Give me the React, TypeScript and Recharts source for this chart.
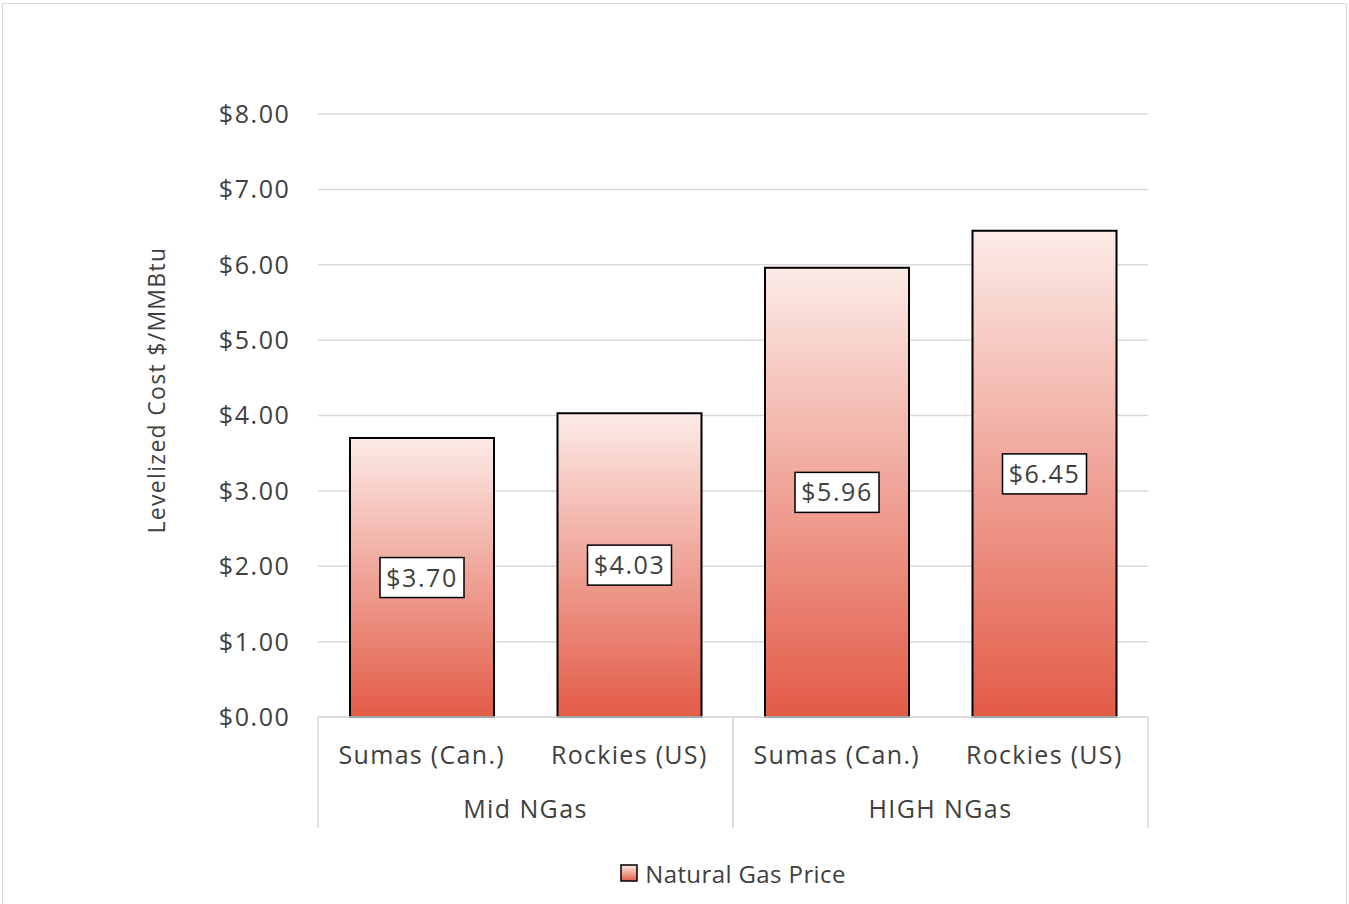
import React from "react";
import { BarChart, Bar, XAxis, YAxis, CartesianGrid, Legend, LabelList } from "recharts";

// Chart values
const categories = ["Sumas (Can.)", "Rockies (US)", "Sumas (Can.)", "Rockies (US)"];
const groups = ["Mid NGas", "Mid NGas", "HIGH NGas", "HIGH NGas"];
const prices = [3.7, 4.03, 5.96, 6.45];
const yTicks = [0, 1, 2, 3, 4, 5, 6, 7, 8];

const seriesName = "Natural Gas Price";
const yLabel = "Levelized Cost $/MMBtu";

const data = categories.map((c, i) => ({ cat: c, group: groups[i], price: prices[i] }));

const TEXT = "#404040";
const GRID = "#d9d9d9";
const FONT = "'Open Sans', sans-serif";

const CAT_AXIS_H = 55;
const GROUP_AXIS_H = 56;
const GROUP_TICK_MARGIN = 28;

const fmt = (v: number) => `$${v.toFixed(2)}`;

function GroupTick(props: any) {
    const { x, y, width, visibleTicksCount, payload } = props;
    const half = width / visibleTicksCount / 2;
    const top = y - GROUP_TICK_MARGIN - CAT_AXIS_H;
    const bottom = y - GROUP_TICK_MARGIN + GROUP_AXIS_H;
    return (
        <g>
            <line x1={x - half} x2={x - half} y1={top} y2={bottom} stroke={GRID} strokeWidth={1.5} />
            <line x1={x + half} x2={x + half} y1={top} y2={bottom} stroke={GRID} strokeWidth={1.5} />
            <text x={x} y={y} dy={18} textAnchor="middle" fill={TEXT} fontSize={25} letterSpacing={1.4} fontFamily={FONT}>
                {payload.value}
            </text>
        </g>
    );
}

function CatTick(props: any) {
    const { x, y, payload } = props;
    return (
        <text x={x} y={y} dy={18} textAnchor="middle" fill={TEXT} fontSize={25} letterSpacing={1.3} fontFamily={FONT}>
            {payload.value}
        </text>
    );
}

function ValueLabel(props: any) {
    const { x, y, width, height, value } = props;
    const cx = x + width / 2;
    const cy = y + height / 2;
    const w = 84;
    const h = 40;
    return (
        <g>
            <rect x={cx - w / 2} y={cy - h / 2} width={w} height={h} fill="#ffffff" stroke="#000000" strokeWidth={1.5} />
            <text x={cx} y={cy} dy={9} textAnchor="middle" fill={TEXT} fontSize={25} letterSpacing={1.6} fontFamily={FONT}>
                {fmt(value)}
            </text>
        </g>
    );
}

function LegendContent() {
    return (
        <div style={{ display: "flex", justifyContent: "center", alignItems: "center", height: 30, fontFamily: FONT, fontSize: 24, letterSpacing: 0.4, color: TEXT }}>
            <svg width={18} height={18} style={{ marginRight: 7 }}>
                <defs>
                    <linearGradient id="legGrad" x1="0" y1="0" x2="0" y2="1">
                        <stop offset="0%" stopColor="#FCEBE7" />
                        <stop offset="100%" stopColor="#E35B47" />
                    </linearGradient>
                </defs>
                <rect x={1} y={1} width={16} height={16} fill="url(#legGrad)" stroke="#000" strokeWidth={1.5} />
            </svg>
            <span>{seriesName}</span>
        </div>
    );
}

export default function App() {
    return (
        <div style={{ position: "absolute", left: 0, top: 0, width: 1349, height: 904, background: "#fff", fontFamily: FONT, overflow: "hidden" }}>
            <div style={{ position: "absolute", left: 2, top: 3, width: 1343, height: 920, border: `1px solid ${GRID}` }} />
            <BarChart
                width={1349}
                height={904}
                data={data}
                margin={{ top: 114, right: 201, left: 0, bottom: 46 }}
                barCategoryGap={32}
            >
                <defs>
                    <linearGradient id="barGrad" x1="0" y1="0" x2="0" y2="1">
                        <stop offset="0%" stopColor="#FCEBE7" />
                        <stop offset="100%" stopColor="#E35B47" />
                    </linearGradient>
                </defs>
                <CartesianGrid vertical={false} stroke={GRID} strokeWidth={1.5} />
                <XAxis
                    dataKey="cat"
                    height={CAT_AXIS_H}
                    tickLine={false}
                    tickSize={0}
                    tickMargin={29}
                    axisLine={{ stroke: GRID, strokeWidth: 1.5 }}
                    tick={<CatTick />}
                    interval={0}
                />
                <XAxis
                    xAxisId="group"
                    dataKey="group"
                    allowDuplicatedCategory={false}
                    height={GROUP_AXIS_H}
                    tickLine={false}
                    tickSize={0}
                    tickMargin={GROUP_TICK_MARGIN}
                    axisLine={false}
                    tick={<GroupTick />}
                    interval={0}
                />
                <YAxis
                    width={318}
                    domain={[0, 8]}
                    ticks={yTicks}
                    tickFormatter={fmt}
                    tickLine={false}
                    tickSize={0}
                    tickMargin={27.5}
                    axisLine={false}
                    tick={{ fill: TEXT, fontSize: 25, fontFamily: FONT, letterSpacing: 1.6 }}
                    label={{
                        content: () => (
                            <text x={157} y={390} transform="rotate(-90, 157, 390)" textAnchor="middle" dy={8} fill={TEXT} fontSize={23} letterSpacing={1.3} fontFamily={FONT}>
                                {yLabel}
                            </text>
                        ),
                    }}
                />
                <Legend
                    verticalAlign="bottom"
                    content={<LegendContent />}
                    wrapperStyle={{ left: 318, width: 830, bottom: 16 }}
                />
                <Bar dataKey="price" name={seriesName} fill="url(#barGrad)" stroke="#000000" strokeWidth={2} isAnimationActive={false}>
                    <LabelList dataKey="price" content={<ValueLabel />} />
                </Bar>
            </BarChart>
        </div>
    );
}
